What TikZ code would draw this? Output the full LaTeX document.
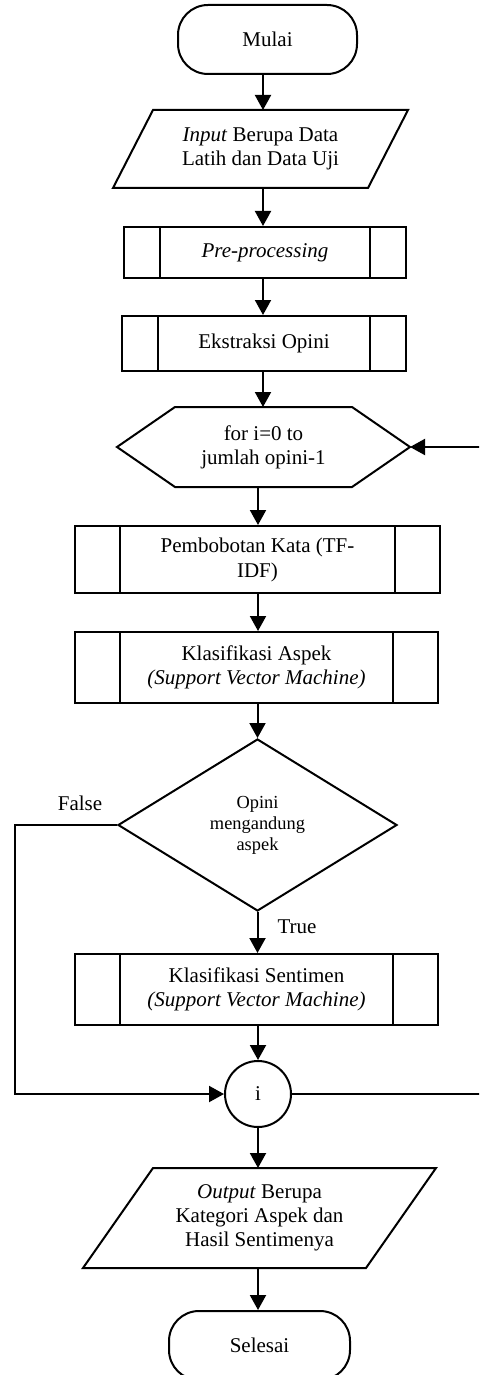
\documentclass[tikz,border=0pt]{standalone}
\usepackage{fontspec}
\setmainfont{Liberation Serif}
\usetikzlibrary{arrows.meta,shapes.geometric,calc}
\begin{document}
\begin{tikzpicture}[x=0.5pt,y=-0.5pt,
  line width=1pt,
  every node/.style={font=\fontsize{10.5}{12}\selectfont, align=center, inner sep=0pt},
  arr/.style={-{Triangle[width=8pt,length=7.5pt]}},
  term/.style={draw, rounded corners=15pt, minimum width=#1, minimum height=34.5pt},
  proc/.style n args={3}{draw, minimum width=#1, minimum height=#2,
    path picture={
      \draw ([xshift=#3]path picture bounding box.north west) -- ([xshift=#3]path picture bounding box.south west);
      \draw ([xshift=-#3]path picture bounding box.north east) -- ([xshift=-#3]path picture bounding box.south east);
    }},
  shapebox/.style n args={2}{minimum width=#1, minimum height=#2, outer sep=0pt},
  dec/.style={draw, diamond, minimum width=139.5pt, minimum height=86pt, font=\fontsize{9.2}{10.5}\selectfont},
  conn/.style={draw, circle, minimum size=33pt},
  lbl/.style={}
]
\useasboundingbox (0,0) rectangle (479,1375);
\clip (0,0) rectangle (479,1375);

\coordinate (cA) at (263,0);
\coordinate (cB) at (258,0);

\node[term=89.5pt] (start) at (267.5,39.5) {Mulai};

\node[shapebox={147.5pt}{39pt}] (in) at (260.5,149) {\textit{Input} Berupa Data\\Latih dan Data Uji};
\draw ([xshift=20pt]in.north west) -- (in.north east) -- ([xshift=-20pt]in.south east) -- (in.south west) -- cycle;

\node[proc={141pt}{25.5pt}{18pt}] (pre) at (265,252.5) {\textit{Pre-processing}};
\node[proc={142pt}{27.5pt}{18pt}] (ext) at (264,343.5) {Ekstraksi Opini};

\node[shapebox={146.5pt}{40pt}] (hex) at (263.5,447) {for i=0 to\\jumlah opini-1};
\draw (hex.west) -- ([xshift=29pt]hex.north west) -- ([xshift=-29pt]hex.north east) -- (hex.east)
  -- ([xshift=-29pt]hex.south east) -- ([xshift=29pt]hex.south west) -- cycle;

\node[proc={182.5pt}{33.5pt}{22.5pt}] (pemb) at (257.5,559.5) {\raisebox{-2.5pt}{\shortstack{Pembobotan Kata (TF-\\IDF)}}};
\node[proc={181.5pt}{35.5pt}{22.5pt}] (asp) at (256.5,667.5) {Klasifikasi Aspek\\\textit{(Support Vector Machine)}};

\node[dec] (dc) at (257.5,825) {Opini\\mengandung\\aspek};

\node[proc={181.5pt}{35.5pt}{22.5pt}] (sen) at (256.5,989.5) {Klasifikasi Sentimen\\\textit{(Support Vector Machine)}};

\node[conn] (con) at (258,1094) {i};

\node[shapebox={176.5pt}{50pt}] (out) at (259.5,1218) {\textit{Output} Berupa\\Kategori Aspek dan\\Hasil Sentimenya};
\draw ([xshift=35pt]out.north west) -- (out.north east) -- ([xshift=-35pt]out.south east) -- (out.south west) -- cycle;

\node[term=90.5pt] (end) at (259.5,1345.5) {Selesai};

\node[lbl] (lfalse) at (80,803) {False};
\node[lbl] (ltrue) at (297,927) {True};

\coordinate (fl) at (15,825);
\coordinate (lp) at (481,1094);

\draw[arr] (start.south -| cA) -- (in.north -| cA);
\draw[arr] (in.south -| cA) -- (pre.north -| cA);
\draw[arr] (pre.south -| cA) -- (ext.north -| cA);
\draw[arr] (ext.south -| cA) -- (hex.north -| cA);
\draw[arr] (hex.south -| cB) -- (pemb.north -| cB);
\draw[arr] (pemb.south -| cB) -- (asp.north -| cB);
\draw[arr] (asp.south -| dc.north) -- (dc.north);
\draw[arr] (dc.south) -- (sen.north -| dc.south);
\draw[arr] (sen.south -| con.north) -- (con.north);
\draw[arr] (con.south) -- (out.north -| con.south);
\draw[arr] (out.south -| con.south) -- (end.north -| con.south);
\draw[arr] (dc.west) -- (fl) |- (con.west);
\draw[arr] (con.east) -- (lp) |- (hex.east);
\end{tikzpicture}
\end{document}
